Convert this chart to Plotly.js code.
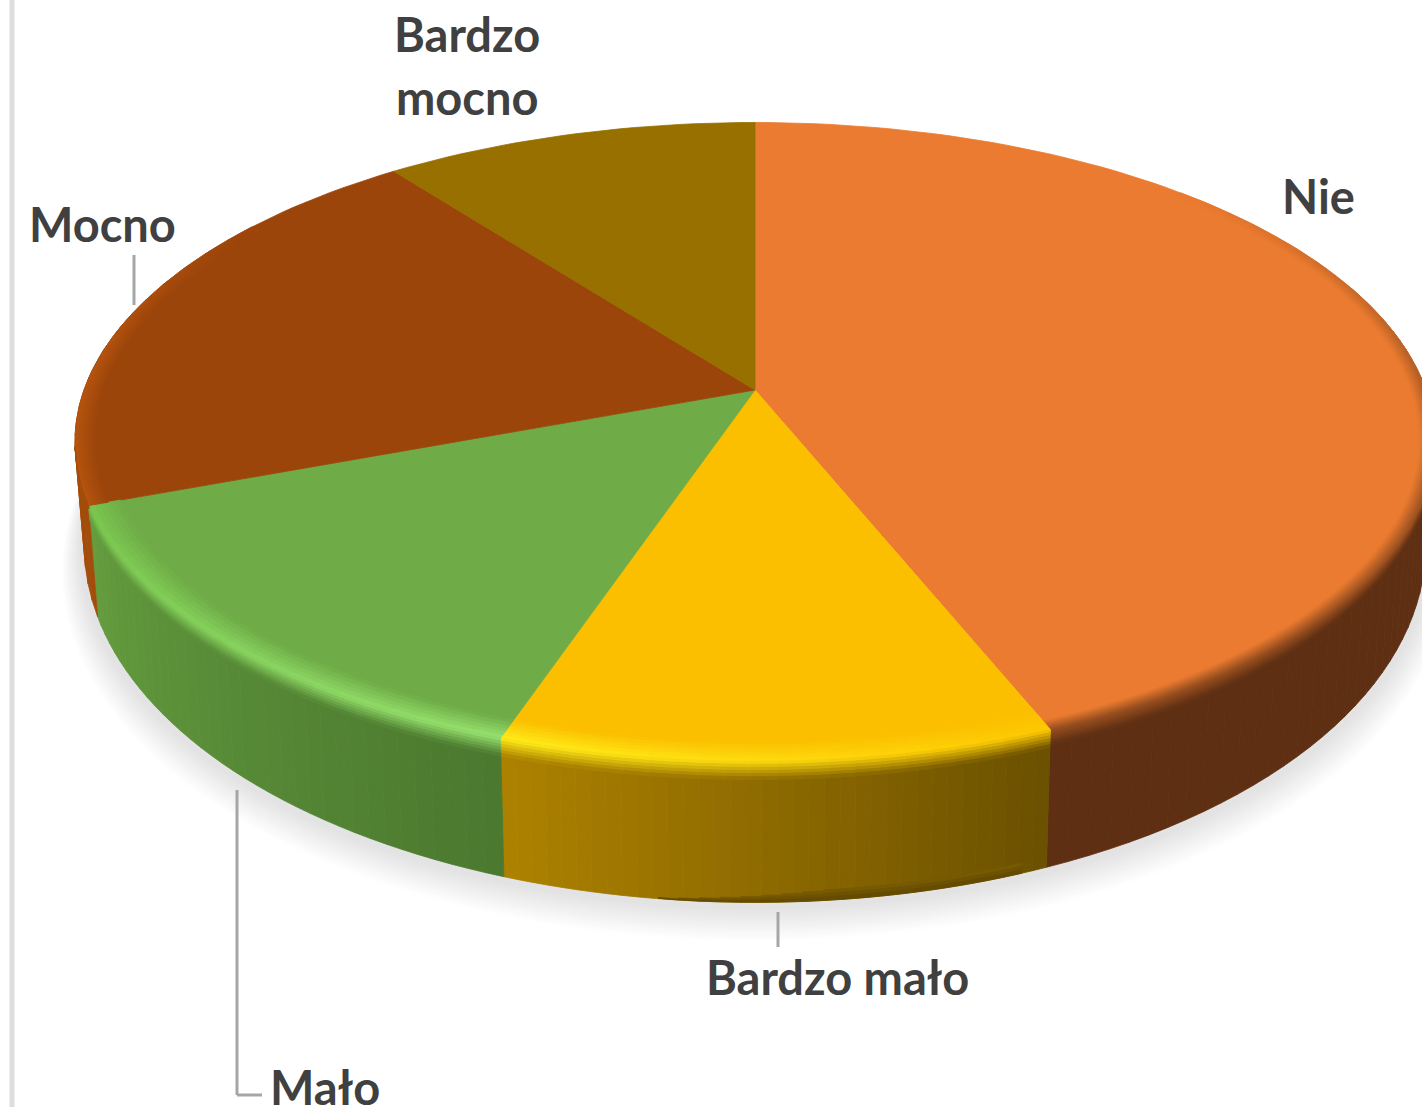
<!DOCTYPE html>
<html><head><meta charset="utf-8">
<script src="https://cdn.plot.ly/plotly-3.0.1.min.js"></script>
<style>html,body{margin:0;padding:0;background:#fff;overflow:hidden}#c{width:1422px;height:1107px}</style>
</head><body><div id="c"></div>
<script>
// Data (share of the pie, %), clockwise from 12 o'clock
const categories = ["Nie", "Bardzo mało", "Mało", "Mocno", "Bardzo mocno"];
const values = [43.9, 11.3, 14.1, 20.3, 10.4];
const topColors = ["#EA7B30", "#FBBF00", "#6FAC47", "#9C450B", "#977000"];
const wallStart = ["#5E2F13", "#6A5000", "#4B782F", "#A34C0B", "#977000"];  // colour at the wedge's first angle
const wallEnd = ["#5E2F13", "#AE8200", "#649C3E", "#A34C0B", "#977000"];    // colour at the wedge's last angle
const labelTexts = ["Nie", "Bardzo mało", "Mało", "Mocno", "Bardzo", "mocno"];
const labelX = [1318, 837, 325, 102, 467, 467];
const labelY = [196, 977, 1087, 224, 34, 97];

// Projection of the tilted disc
const X0 = 755, Y0 = 390, K = 0.1625, A = 671, B = 311;
const rad = a => a * Math.PI / 180;
function depth(t) { return 95 + 46 * Math.max(0, -Math.cos(rad(t))); }
function pt(t, r, d) {
  const u = r * Math.sin(rad(t)), v = r * Math.cos(rad(t)), w = 1 + K * v;
  let x = X0 + A * u / w, y = Y0 - B * v / w;
  y += depth(t) * d;
  x = X0 + (x - X0) * (1 - 0.0135 * d);
  return [x, y];
}
const hex = c => [1, 3, 5].map(i => parseInt(c.substr(i, 2), 16));
function mix(a, b, s) {
  s = Math.max(0, Math.min(1, s));
  const p = hex(a), q = hex(b);
  return "#" + p.map((e, i) => Math.round(e + (q[i] - e) * s).toString(16).padStart(2, "0")).join("");
}

const traces = [];
function poly(points, color) {
  traces.push({
    type: "scatter", mode: "lines", fill: "toself", fillcolor: color,
    x: points.map(p => p[0]).concat(points[0][0]), y: points.map(p => p[1]).concat(points[0][1]),
    line: { color: color, width: 0.8 }, hoverinfo: "skip", showlegend: false
  });
}
function quad(t0, t1, a0, a1, color) { // a = [r, d]
  poly([pt(t0, a0[0], a0[1]), pt(t1, a0[0], a0[1]), pt(t1, a1[0], a1[1]), pt(t0, a1[0], a1[1])], color);
}

// Wedge angles derived from the values
const total = values.reduce((s, v) => s + v, 0);
const edges = [0];
values.forEach(v => edges.push(edges[edges.length - 1] + v / total * 360));

// Soft shadow beneath the disc
const SHADOW_STEPS = 16;
for (let i = 0; i < SHADOW_STEPS; i++) {
  const s = i / (SHADOW_STEPS - 1);
  const scale = 1.032 - 0.026 * s, shift = 24 - 20 * s;
  const ring = [];
  for (let t = 0; t < 360; t += 2) { const p = pt(t, scale, 1); ring.push([p[0], p[1] + shift]); }
  poly(ring, mix("#FEFEFE", "#E3E3E3", s));
}

// Side walls
const wallSpan = [[70, edges[1]], [edges[1], edges[2]], [edges[2], edges[3]], [edges[3], 285]];
wallSpan.forEach((span, i) => {
  const n = i === 0 ? 50 : (i === 3 ? 14 : 36), dt = (span[1] - span[0]) / n;
  for (let c = 0; c < n; c++) {
    const t = span[0] + c * dt;
    quad(t, t + dt, [1, 0], [1, 1], mix(wallStart[i], wallEnd[i], (c + 0.5) / n));
  }
});

// Darker lip along the lower edge of the yellow wall
const lipN = 18;
for (let c = 0; c < lipN; c++) {
  const t = edges[1] + 2 + c * 1.5;
  const grow = 0.075 * Math.min(1, (lipN - c) / 9);
  for (let r = 0; r < 3; r++) {
    const d0 = 1 - grow * (3 - r) / 3, d1 = 1 - grow * (2 - r) / 3;
    quad(t, t + 1.5, [1, d0], [1, d1], mix("#7A5C00", "#5F4800", (r + 0.5) / 3));
  }
}

// Flat top surface
values.forEach((v, i) => {
  const ring = [pt(0, 0, 0)];
  const n = Math.max(8, Math.ceil((edges[i + 1] - edges[i]) / 1.5));
  for (let c = 0; c <= n; c++) ring.push(pt(edges[i] + (edges[i + 1] - edges[i]) * c / n, 1, 0));
  poly(ring, topColors[i]);
});

// Bevelled rim: rows from the flat face out to the edge (inner), then down to the wall (outer)
const ROWS_IN = 6, ROWS_OUT = 6;
function rim(t0, t1, cols, rInner, dOuter, flat, hlAt, wallAt, outerUntil, outerFrom) {
  const dt = (t1 - t0) / cols;
  for (let c = 0; c < cols; c++) {
    const t = t0 + c * dt, s = (c + 0.5) / cols;
    const hl = hlAt(s), wl = wallAt(s);
    for (let r = 0; r < ROWS_IN; r++) {
      const a = rInner + (1 - rInner) * r / ROWS_IN, b = rInner + (1 - rInner) * (r + 1) / ROWS_IN;
      quad(t, t + dt, [a, 0], [b, 0], mix(flat, hl, (r + 0.5) / ROWS_IN));
    }
    if (t + dt > outerUntil || t < outerFrom) continue;
    for (let r = 0; r < ROWS_OUT; r++) {
      quad(t, t + dt, [1, dOuter * r / ROWS_OUT], [1, dOuter * (r + 1) / ROWS_OUT], mix(hl, wl, (r + 0.5) / ROWS_OUT));
    }
  }
}
// Nie: orange fading into brown, only once the wall comes into view
rim(45, edges[1], 36, 0.978, 0.115, topColors[0],
  s => mix(topColors[0], "#9A5020", Math.min(1, s * 1.9)),
  s => wallStart[0], 999, 99);
// Bardzo mało: bright yellow line on the left fading out toward the right
rim(edges[1], edges[2], 22, 0.955, 0.13, topColors[1],
  s => mix("#FDC400", "#FFEC1A", 0.1 + s * 0.9),
  s => mix(wallStart[1], wallEnd[1], s), 999, 0);
// Mało: light green line
rim(edges[2], edges[3], 22, 0.955, 0.13, topColors[2],
  s => mix("#97E26F", "#79C64F", s),
  s => mix(wallStart[2], wallEnd[2], s), 999, 0);
// Mocno: lighter edge that dies out going up the left side
rim(edges[3], 305, 16, 0.972, 0.03, topColors[3],
  s => mix("#B5540F", "#9C450B", Math.max(0, (s - 0.5) / 0.5)),
  s => wallEnd[3], 261, 0);

const annotations = labelTexts.map((t, i) => ({
  x: labelX[i], y: labelY[i], xref: "x", yref: "y", text: t, showarrow: false,
  xanchor: "center", yanchor: "middle",
  font: { family: "Lato, 'Open Sans', sans-serif", size: 47, color: "#404040", weight: 700 }
}));

const ln = (x0, y0, x1, y1, c, w) => ({ type: "line", x0, y0, x1, y1, xref: "x", yref: "y", layer: "above", line: { color: c, width: w } });
const shapes = [
  ln(12, 0, 12, 1107, "#DEDEDE", 5),
  ln(134, 255, 134, 305, "#A6A6A6", 3),
  ln(778, 912, 778, 947, "#A6A6A6", 3),
  ln(237, 790, 237, 1095, "#A6A6A6", 3),
  ln(237, 1095, 262, 1095, "#A6A6A6", 3)
];

Plotly.newPlot("c", traces, {
  width: 1422, height: 1107, margin: { l: 0, r: 0, t: 0, b: 0, pad: 0 },
  paper_bgcolor: "#fff", plot_bgcolor: "#fff", showlegend: false,
  xaxis: { range: [0, 1422], visible: false, fixedrange: true },
  yaxis: { range: [1107, 0], visible: false, fixedrange: true },
  annotations, shapes
}, { staticPlot: true, displayModeBar: false });
</script></body></html>
